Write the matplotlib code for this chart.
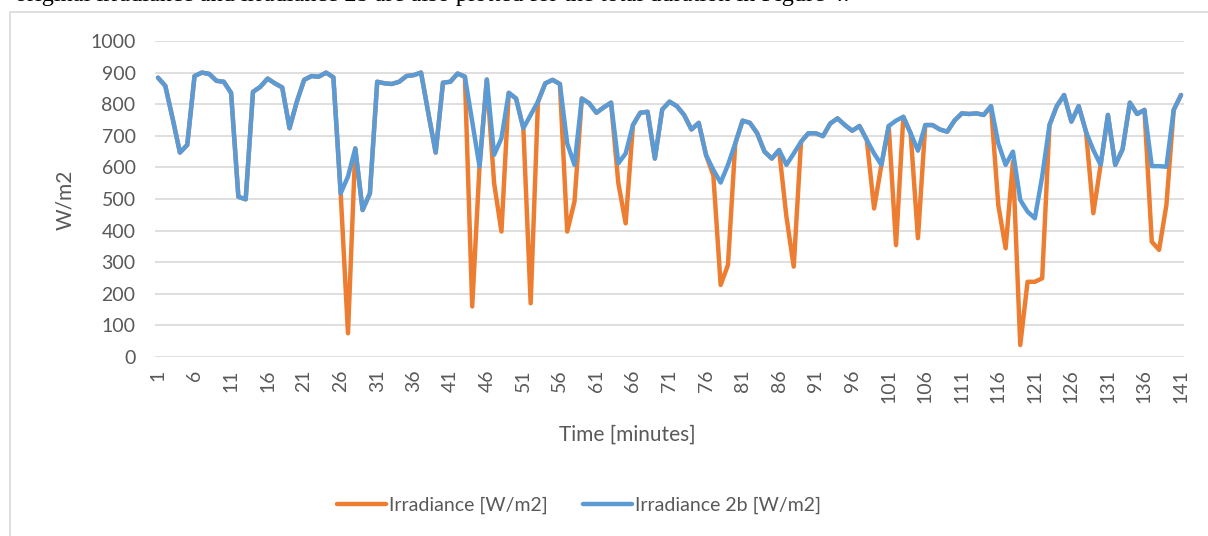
import numpy as np
import matplotlib.pyplot as plt
from matplotlib.patches import Rectangle

# minutes 1..141
minutes = np.arange(1, 142)

# Irradiance 2b [W/m2] (blue)
irr_2b = [884, 858, 755, 647, 671, 889, 900, 896, 874, 871,
          836, 507, 499, 839, 855, 881, 866, 853, 724, 808,
          877, 889, 887, 900, 885, 518, 571, 660, 465, 518,
          871, 866, 864, 871, 889, 892, 900, 771, 647, 868,
          871, 897, 887, 745, 603, 878, 640, 692, 836, 818,
          724, 766, 808, 866, 877, 864, 676, 608, 818, 803,
          773, 790, 805, 613, 644, 734, 773, 776, 628, 783,
          808, 794, 766, 720, 741, 639, 592, 552, 608, 676,
          748, 741, 708, 650, 628, 655, 608, 644, 681, 708,
          708, 699, 739, 755, 734, 716, 731, 687, 644, 608,
          731, 748, 760, 708, 653, 734, 734, 720, 713, 748,
          771, 769, 771, 766, 794, 676, 608, 650, 497, 460,
          439, 571, 734, 794, 829, 745, 794, 713, 655, 608,
          766, 608, 657, 805, 769, 782, 604, 604, 602, 782,
          829]

# Irradiance [W/m2] (orange): same as 2b except at the dips
irr = list(irr_2b)
dips = {27: 75, 44: 160, 47: 550, 48: 397, 52: 170, 57: 397, 58: 492,
        64: 550, 65: 423, 77: 575, 78: 228, 79: 291, 87: 444, 88: 286,
        99: 470, 102: 354, 105: 376, 116: 480, 117: 344, 118: 618,
        119: 38, 120: 238, 121: 238, 122: 249, 129: 455, 137: 365,
        138: 339, 139: 481}
for m, v in dips.items():
    irr[m - 1] = v

xtick_labels = [str(m) for m in range(1, 142, 5)]

plt.rcParams['font.family'] = ['Lato', 'DejaVu Sans']
grey = '#595959'

W, H = 1208, 536
fig = plt.figure(figsize=(W / 100, H / 100), dpi=100)

# chart frame and the caption line above it (page crop shows only its bottom)
fig.patches.append(Rectangle((10 / W, -0.05), 1.2, 1 - 12 / H + 0.05,
                             transform=fig.transFigure, fill=False,
                             edgecolor='#D9D9D9', lw=1.2))
fig.text(15 / W, 1 - 1.5 / H, 'original irradiance and irradiance 2b are also plotted '
         'for the total duration in Figure 4.', family='Liberation Serif',
         fontsize=17.5, va='baseline', ha='left', color='black')

ax = fig.add_axes([155 / W, 1 - 357 / H, (1184 - 155) / W, (357 - 41) / H])
ax.plot(minutes, irr, color='#ED7D31', lw=3.2, solid_joinstyle='round',
        solid_capstyle='round', label='Irradiance [W/m2]')
ax.plot(minutes, irr_2b, color='#5B9BD5', lw=3.2, solid_joinstyle='round',
        solid_capstyle='round', label='Irradiance 2b [W/m2]')

ax.set_xlim(0.59, 141.41)
ax.set_ylim(0, 1000)
ax.set_yticks(range(0, 1001, 100))
ax.set_xticks(range(1, 142, 5))
ax.set_xticklabels(xtick_labels, rotation=90)
ax.tick_params(length=0, labelsize=14, colors=grey)
ax.tick_params(axis='x', pad=9)
ax.tick_params(axis='y', pad=14)
ax.grid(axis='y', color='#D9D9D9', lw=1.2)
ax.set_axisbelow(True)
for s in ax.spines.values():
    s.set_visible(False)

fig.text(627 / W, 1 - 435 / H, 'Time [minutes]', ha='center', va='center',
         fontsize=15, color=grey)
fig.text(65 / W, 1 - 200 / H, 'W/m2', ha='center', va='center',
         rotation=90, fontsize=15, color=grey)

leg = fig.legend(loc='center', bbox_to_anchor=(579 / W, 1 - 505 / H), ncol=2,
                 frameon=False, fontsize=14, handlelength=2.5,
                 handletextpad=0.15, columnspacing=1.85)
for t in leg.get_texts():
    t.set_color(grey)

fig.savefig('out.png', dpi=100)
